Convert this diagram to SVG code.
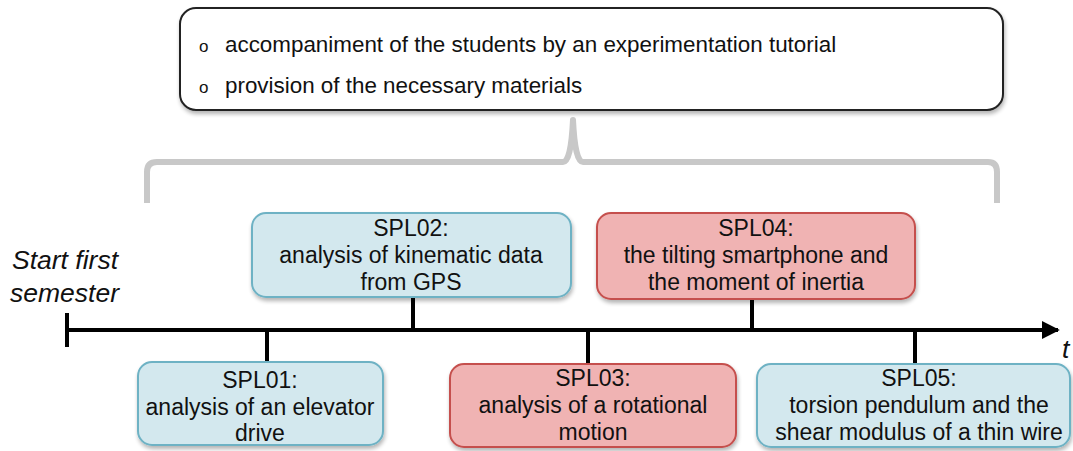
<svg xmlns="http://www.w3.org/2000/svg" width="1073" height="451" viewBox="0 0 1073 451">
  <defs>
    <filter id="shadow" x="-10%" y="-10%" width="125%" height="135%">
      <feGaussianBlur in="SourceAlpha" stdDeviation="2"/>
      <feOffset dx="1" dy="3" result="b"/>
      <feComponentTransfer><feFuncA type="linear" slope="0.3"/></feComponentTransfer>
      <feMerge><feMergeNode/><feMergeNode in="SourceGraphic"/></feMerge>
    </filter>
    <marker id="arrow" viewBox="0 0 10 10" refX="9" refY="5" markerWidth="4.5" markerHeight="4.5" orient="auto" markerUnits="strokeWidth">
      <path d="M0,0 L10,5 L0,10 z" fill="#000"/>
    </marker>
  </defs>
  <style>
    text { font-family: "Liberation Sans", Arial, sans-serif; fill: #111; }
    .node text { font-size: 23px; text-anchor: middle; }
    .blue rect { fill: #d3e8ee; stroke: #6eb2c4; stroke-width: 2; }
    .red rect { fill: #f0b3b3; stroke: #c5504d; stroke-width: 2; }
    .link { stroke: #000; stroke-width: 4; fill: none; }
    .top text { font-size: 22.4px; }
    .top text.bullet { font-size: 17px; }
    .italic { font-size: 26.5px; font-style: italic; }
  </style>

  <rect width="1073" height="451" fill="#fff"/>

  <!-- support box -->
  <g id="support" class="top">
    <rect x="180" y="8" width="823" height="102" rx="16" fill="#fff" stroke="#222" stroke-width="2" filter="url(#shadow)"/>
    <text class="bullet" x="199" y="52">o</text>
    <text x="225" y="52">accompaniment of the students by an experimentation tutorial</text>
    <text class="bullet" x="199" y="93">o</text>
    <text x="225" y="93">provision of the necessary materials</text>
  </g>

  <!-- brace spanning all labs -->
  <g id="brace">
    <path d="M147,203 V172 Q147,162 157,162 H563 Q571,162 573,120 Q575,162 583,162 H988 Q997,162 997,172 V203" fill="none" stroke="#c8c8c8" stroke-width="6" stroke-linejoin="round"/>
  </g>

  <!-- time axis and connectors -->
  <g id="connectors">
    <line class="link" x1="67" y1="330" x2="1058" y2="330" marker-end="url(#arrow)"/>
    <line class="link" x1="67" y1="313" x2="67" y2="347"/>
    <line class="link" x1="267" y1="330" x2="267" y2="362"/>
    <line class="link" x1="413" y1="297" x2="413" y2="330"/>
    <line class="link" x1="588" y1="330" x2="588" y2="364"/>
    <line class="link" x1="752" y1="299" x2="752" y2="330"/>
    <line class="link" x1="915" y1="330" x2="915" y2="364"/>
  </g>

  <g id="start-label">
    <text class="italic" x="12" y="269">Start first</text>
    <text class="italic" x="10" y="302">semester</text>
  </g>
  <g id="t-label">
    <text class="italic" x="1062" y="358">t</text>
  </g>

  <g id="spl01" class="node blue">
    <rect x="138" y="362" width="245" height="83" rx="14" filter="url(#shadow)"/>
    <text x="260" y="388">SPL01:</text>
    <text x="260" y="415">analysis of an elevator</text>
    <text x="260" y="441">drive</text>
  </g>

  <g id="spl02" class="node blue">
    <rect x="252" y="213" width="319" height="84" rx="14" filter="url(#shadow)"/>
    <text x="411" y="236">SPL02:</text>
    <text x="411" y="263">analysis of kinematic data</text>
    <text x="411" y="290">from GPS</text>
  </g>

  <g id="spl03" class="node red">
    <rect x="450" y="364" width="286" height="83" rx="14" filter="url(#shadow)"/>
    <text x="593" y="386">SPL03:</text>
    <text x="593" y="413">analysis of a rotational</text>
    <text x="593" y="440">motion</text>
  </g>

  <g id="spl04" class="node red">
    <rect x="597" y="213" width="318" height="86" rx="14" filter="url(#shadow)"/>
    <text x="756" y="236">SPL04:</text>
    <text x="756" y="263">the tilting smartphone and</text>
    <text x="756" y="290">the moment of inertia</text>
  </g>

  <g id="spl05" class="node blue">
    <rect x="757" y="364" width="313" height="83" rx="14" filter="url(#shadow)"/>
    <text x="919" y="386">SPL05:</text>
    <text x="919" y="413">torsion pendulum and the</text>
    <text x="919" y="440">shear modulus of a thin wire</text>
  </g>
</svg>
